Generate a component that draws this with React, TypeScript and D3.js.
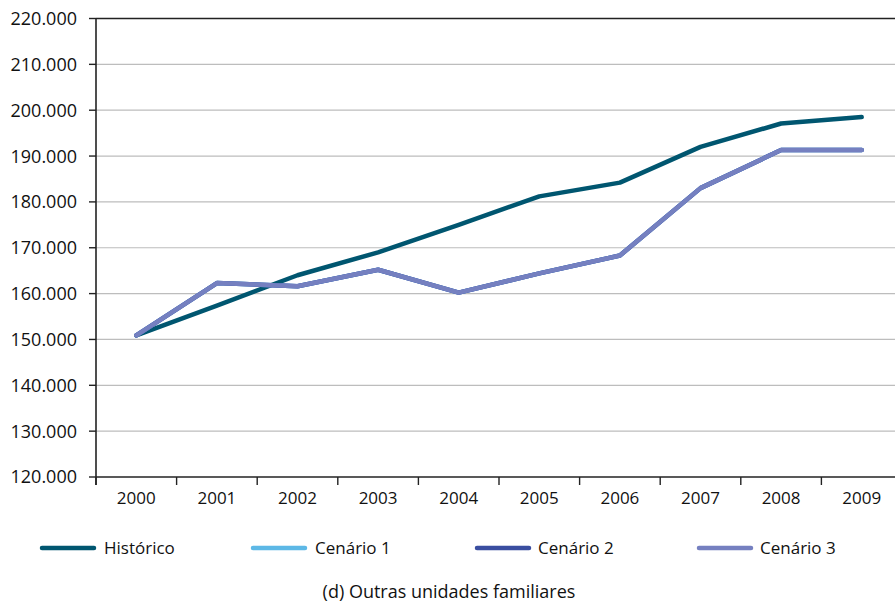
import React from "react";
import * as d3 from "d3";

const years = ["2000","2001","2002","2003","2004","2005","2006","2007","2008","2009"];
const historico = [150.9,157.4,164.0,169.0,175.0,181.2,184.2,192.0,197.1,198.5];
const cenario1 = [150.9,162.3,161.6,165.2,160.2,164.4,168.3,183.0,191.3,191.3];
const cenario2 = [150.9,162.3,161.6,165.2,160.2,164.4,168.3,183.0,191.3,191.3];
const cenario3 = [150.9,162.3,161.6,165.2,160.2,164.4,168.3,183.0,191.3,191.3];
const yTicks = [120,130,140,150,160,170,180,190,200,210,220];

const seriesNames = ["Histórico","Cenário 1","Cenário 2","Cenário 3"];
const seriesColors = ["#005670","#5DB8E6","#3A4EA0","#7580C0"];
const seriesData = [historico, cenario1, cenario2, cenario3];

const W = 895, H = 603;
const left = 96, right = 902, top = 18.5, bottom = 477;
const FONT = "'Open Sans', 'Noto Sans', sans-serif";

export default function App() {
  const x = d3.scaleBand<string>().domain(years).range([left, right]).paddingInner(0).paddingOuter(0);
  const y = d3.scaleLinear().domain([120, 220]).range([bottom, top]);
  const cx = (i: number) => (x(years[i]) as number) + x.bandwidth() / 2;
  const line = d3.line<number>().x((_, i) => cx(i)).y(d => y(d));
  const legendLines = [[42, 94, 104], [253, 305, 315], [477, 529, 538], [699, 751, 760]];
  const tickBounds = years.map(yr => x(yr) as number).concat([right]);

  return (
    <svg width={W} height={H} style={{ position: "absolute", left: 0, top: 0, background: "#fff" }}>
      {yTicks.map(t => (
        <g key={t}>
          <line x1={left} x2={right} y1={y(t)} y2={y(t)}
            stroke={t === 220 || t === 120 ? "#222" : "#bdbdbd"} strokeWidth={t === 220 || t === 120 ? 1.6 : 1.2} />
          <line x1={89} x2={left} y1={y(t)} y2={y(t)} stroke="#222" strokeWidth={1.4} />
          <text x={77} y={y(t)} dy="0.36em" textAnchor="end" fontFamily={FONT} fontSize={18} fill="#111">
            {d3.format(".3f")(t)}
          </text>
        </g>
      ))}
      <line x1={left} x2={left} y1={top} y2={bottom + 8} stroke="#222" strokeWidth={1.6} />
      {tickBounds.map((b, i) => (
        <line key={i} x1={b} x2={b} y1={bottom} y2={bottom + 8} stroke="#222" strokeWidth={1.4} />
      ))}
      {years.map((yr, i) => (
        <text key={yr} x={cx(i)} y={498} dy="0.36em" textAnchor="middle" fontFamily={FONT} fontSize={17} fill="#111">{yr}</text>
      ))}
      {seriesData.map((s, k) => (
        <path key={k} d={line(s) as string} fill="none" stroke={seriesColors[k]} strokeWidth={4.5}
          strokeLinecap="round" strokeLinejoin="round" />
      ))}
      {seriesNames.map((n, k) => (
        <g key={n}>
          <line x1={legendLines[k][0]} x2={legendLines[k][1]} y1={548} y2={548} stroke={seriesColors[k]} strokeWidth={4.5} strokeLinecap="round" />
          <text x={legendLines[k][2]} y={548} dy="0.36em" fontFamily={FONT} fontSize={17} fill="#111">{n}</text>
        </g>
      ))}
      <text x={449} y={592} dy="0.36em" textAnchor="middle" fontFamily={FONT} fontSize={18} fill="#111">(d) Outras unidades familiares</text>
    </svg>
  );
}
